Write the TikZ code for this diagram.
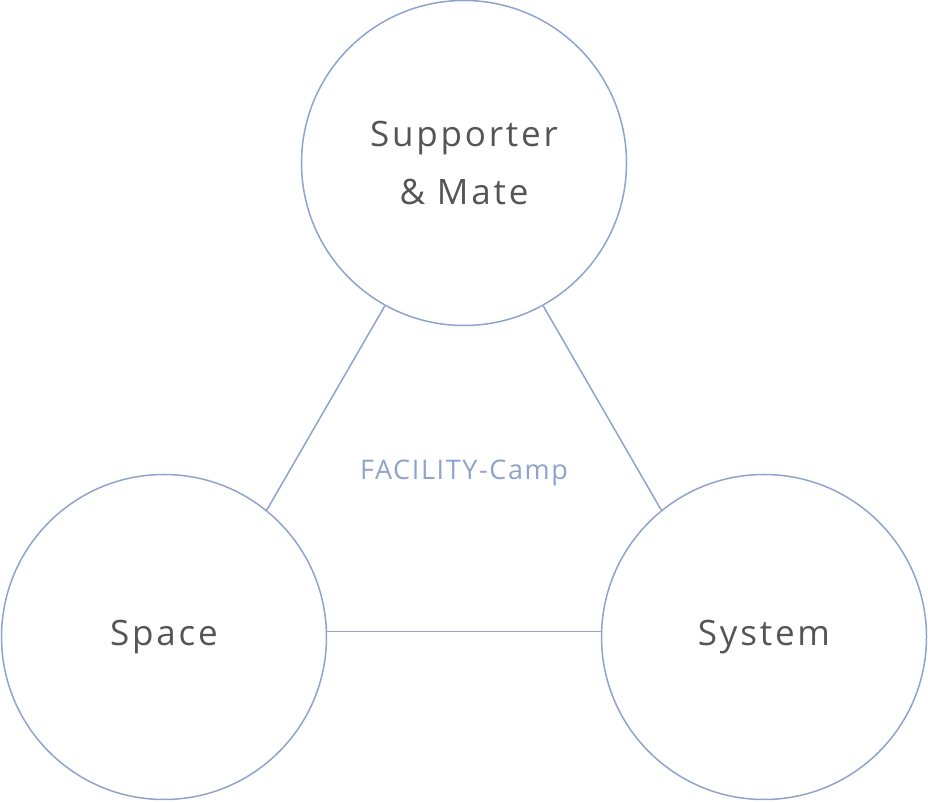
\documentclass[tikz,border=0pt]{standalone}
\usepackage{fontspec}
\setmainfont[LetterSpace=8]{Open Sans}
\newfontfamily\campfont[LetterSpace=6]{Open Sans}
\definecolor{ringblue}{HTML}{8FA3CB}
\definecolor{labelgray}{HTML}{555555}
\begin{document}
\begin{tikzpicture}[x=1pt,y=1pt]
\tikzset{
  ring/.style={shape=circle, draw=ringblue, line width=1.5pt, minimum size=325pt, inner sep=0pt, align=center, text=labelgray, font=\fontsize{35}{58}\selectfont},
  link/.style={-, line width=1.5pt, draw=ringblue}
}
\useasboundingbox (0,0) rectangle (928,802);
\node[ring] (mate) at (464,639) {Supporter\\\& Mate};
\node[ring] (space) at (164,165) {Space};
\node[ring] (system) at (764,165) {System};
\node[text=ringblue, font=\campfont\fontsize{27}{30}\selectfont] (camp) at (464,329) {FACILITY-Camp};
\draw [link] (mate.241) -- (space.51);
\draw [link] (mate.299) -- (system.129);
\draw [link] (space.2) -- (system.178);
\end{tikzpicture}
\end{document}
